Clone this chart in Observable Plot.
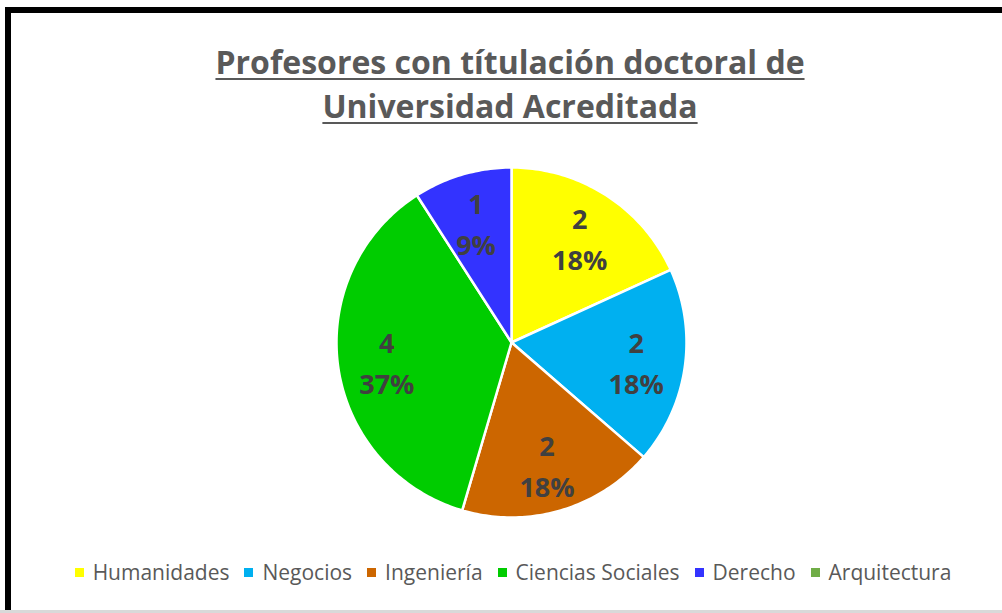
<!DOCTYPE html>
<html><head><meta charset="utf-8">
<script src="https://cdn.jsdelivr.net/npm/d3@7"></script>
<script src="https://cdn.jsdelivr.net/npm/@observablehq/plot@0.6"></script>
<style>
html,body{margin:0;padding:0;background:#fff;width:1002px;height:613px;overflow:hidden;font-family:"Open Sans",sans-serif;}
#frame{position:absolute;left:5px;top:7px;width:1100px;height:700px;border-left:6px solid #000;border-top:6px solid #000;box-sizing:border-box;}
#bottomline{position:absolute;left:0;top:610px;width:1002px;height:3px;background:#d9d9d9;}
#title{position:absolute;left:0;width:1020px;top:40px;text-align:center;font-weight:700;font-size:32px;line-height:44px;color:#595959;text-decoration:underline;text-decoration-thickness:2px;text-underline-offset:4px;}
#chart{position:absolute;left:333px;top:164px;}
#legend{position:absolute;left:0;width:1026px;top:558px;display:flex;justify-content:center;align-items:center;font-size:21px;color:#595959;white-space:nowrap;}
.item{display:flex;align-items:center;margin:0 7.5px;}
.sw{width:9px;height:9px;margin-right:9px;display:inline-block;}
</style></head>
<body>
<div id="frame"></div>
<div id="bottomline"></div>
<div id="title">Profesores con títulación doctoral de<br>Universidad Acreditada</div>
<div id="chart"></div>
<div id="legend"></div>
<script>
const categories = ["Humanidades","Negocios","Ingeniería","Ciencias Sociales","Derecho","Arquitectura"];
const values = [2,2,2,4,1,0];
const percentLabels = ["18%","18%","18%","37%","9%",""];
const colors = ["#FFFF00","#00B0F0","#CC6600","#00CC00","#3333FF","#70AD47"];

const rows = categories.map((name,i)=>({name, value: values[i], pct: percentLabels[i]}));
const arcs = d3.pie().sort(null).value(d=>d.value)(rows);

const outline = [];
const labels = [];
const labelRadius = 0.72;
arcs.forEach(a => {
  const span = a.endAngle - a.startAngle;
  if (span <= 0) return;
  const name = a.data.name;
  outline.push({name, x:0, y:0});
  const n = Math.max(2, Math.ceil(span/(Math.PI/180)));
  for (let i=0;i<=n;i++){
    const t = a.startAngle + span*i/n;
    outline.push({name, x: Math.sin(t), y: Math.cos(t)});
  }
  outline.push({name, x:0, y:0});
  const m = (a.startAngle + a.endAngle)/2;
  labels.push({name, x: labelRadius*Math.sin(m), y: labelRadius*Math.cos(m), text: `${a.data.value}\n${a.data.pct}`});
});

const plot = Plot.plot({
  width: 356, height: 356, margin: 3,
  x: {domain:[-1,1], axis:null},
  y: {domain:[-1,1], axis:null},
  color: {domain: categories, range: colors},
  style: {fontFamily: "'Open Sans', sans-serif", background: "transparent", overflow: "visible"},
  marks: [
    Plot.line(outline, {x:"x", y:"y", z:"name", fill:"name", stroke:"white", strokeWidth:2.5, strokeLinejoin:"round", curve:"linear"}),
    Plot.text(labels, {x:"x", y:"y", text:"text", fontSize:27, fontWeight:"bold", fill:"#404040", lineHeight:1.5})
  ]
});
document.getElementById("chart").appendChild(plot);

const lg = document.getElementById("legend");
categories.forEach((c,i)=>{
  const it = document.createElement("div"); it.className="item";
  const sw = document.createElement("span"); sw.className="sw"; sw.style.background = colors[i];
  const tx = document.createElement("span"); tx.textContent = c;
  it.appendChild(sw); it.appendChild(tx); lg.appendChild(it);
});
</script>
</body></html>
